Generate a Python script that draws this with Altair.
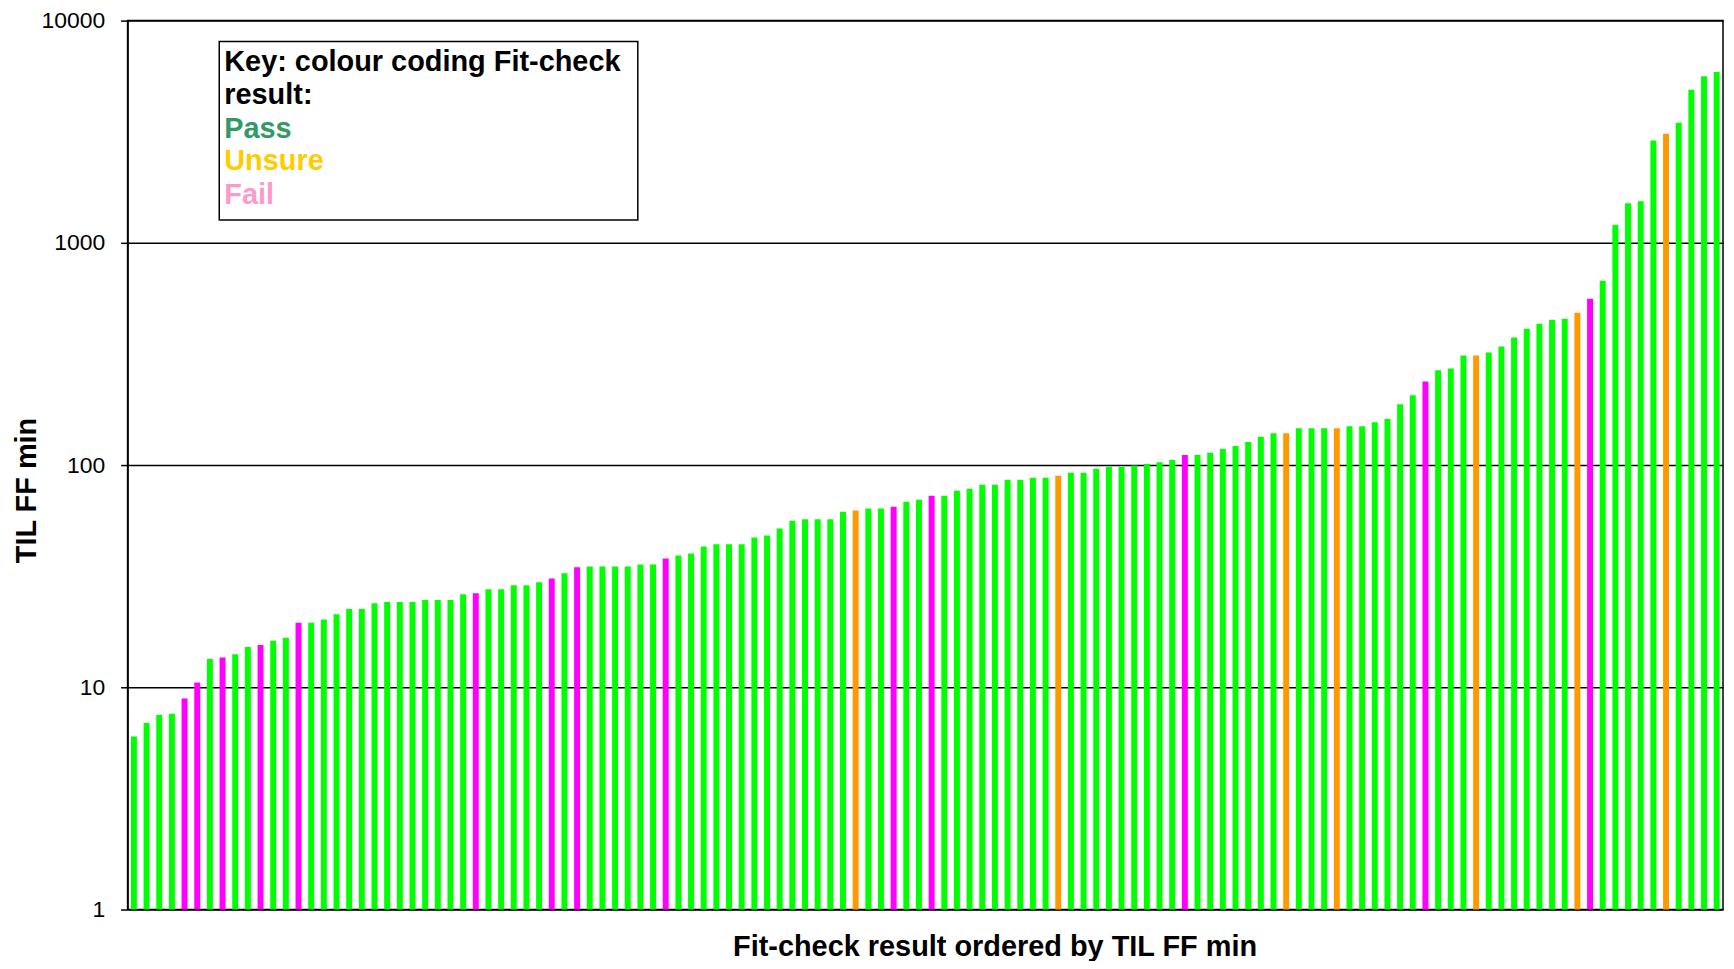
import altair as alt
import pandas as pd

# TIL FF min values, ordered
values = [
    6.0, 6.9, 7.5, 7.6, 8.9, 10.5, 13.4, 13.6, 14.1, 15.2,
    15.5, 16.2, 16.7, 19.5, 19.5, 20.2, 21.3, 22.5, 22.5, 23.9,
    24.2, 24.2, 24.2, 24.7, 24.7, 24.7, 26.2, 26.5, 27.6, 27.6,
    28.8, 28.8, 29.7, 30.9, 32.6, 34.7, 35.0, 35.0, 35.0, 35.0,
    35.7, 35.7, 38.0, 39.2, 40.0, 43.0, 44.0, 44.0, 44.0, 47.2,
    48.2, 51.8, 56.2, 57.0, 57.0, 57.0, 61.7, 62.5, 63.7, 63.7,
    65.0, 68.4, 69.8, 72.8, 72.8, 76.6, 78.2, 81.5, 81.5, 85.9,
    85.9, 87.7, 87.7, 89.5, 92.3, 92.3, 96.2, 98.2, 98.2, 99.5,
    101, 103, 105.5, 111, 111, 113.5, 118, 122, 127, 134,
    139, 139, 146.6, 146.6, 146.6, 146.6, 149.7, 149.7, 156, 161,
    188, 206, 238, 267, 272, 311, 311, 321, 342, 375,
    411, 433, 451, 456, 485, 560, 675, 1202, 1507, 1538,
    2884, 3098, 3473, 4880, 5623, 5875,
]

# Fit-check result codes: P = Pass, U = Unsure, F = Fail
codes = [
    "P", "P", "P", "P", "F", "F", "P", "F", "P", "P",
    "F", "P", "P", "F", "P", "P", "P", "P", "P", "P",
    "P", "P", "P", "P", "P", "P", "P", "F", "P", "P",
    "P", "P", "P", "F", "P", "F", "P", "P", "P", "P",
    "P", "P", "F", "P", "P", "P", "P", "P", "P", "P",
    "P", "P", "P", "P", "P", "P", "P", "U", "P", "P",
    "F", "P", "P", "F", "P", "P", "P", "P", "P", "P",
    "P", "P", "P", "U", "P", "P", "P", "P", "P", "P",
    "P", "P", "P", "F", "P", "P", "P", "P", "P", "P",
    "P", "U", "P", "P", "P", "U", "P", "P", "P", "P",
    "P", "P", "F", "P", "P", "P", "U", "P", "P", "P",
    "P", "P", "P", "P", "U", "F", "P", "P", "P", "P",
    "P", "U", "P", "P", "P", "P",
]

code_names = {"P": "Pass", "U": "Unsure", "F": "Fail"}
result_domain = ["Pass", "Unsure", "Fail"]
bar_colors = ["#00FF00", "#FF9900", "#FF00FF"]

y_ticks = [1, 10, 100, 1000, 10000]

legend_lines = ["Key: colour coding Fit-check", "result:", "Pass", "Unsure", "Fail"]
legend_colors = ["#000000", "#000000", "#339966", "#FFCC00", "#FF99CC"]

df = pd.DataFrame({
    "rank": list(range(1, len(values) + 1)),
    "til": values,
    "result": [code_names[c] for c in codes],
})

FONT = "Liberation Sans"
W, H = 1601, 892

bars = alt.Chart(df).mark_bar().encode(
    x=alt.X(
        "rank:O",
        scale=alt.Scale(paddingInner=0.53, paddingOuter=0.265),
        axis=alt.Axis(
            title="Fit-check result ordered by TIL FF min",
            labels=False, ticks=False, domain=False, grid=False,
            titleFont=FONT, titleFontSize=29, titleFontWeight="bold",
            titleColor="black", titleX=870, titleY=46,
            titleAlign="center", titleBaseline="alphabetic",
        ),
    ),
    y=alt.Y(
        "til:Q",
        scale=alt.Scale(type="log", domain=[1, 10000], nice=False),
        axis=alt.Axis(
            title="TIL FF min", values=y_ticks, format="d",
            grid=True, gridColor="black", gridOpacity=1, gridWidth=1.5,
            domainColor="black", domainWidth=1.5,
            tickColor="black", tickSize=7, tickWidth=1.5,
            labelFont=FONT, labelFontSize=23, labelColor="black",
            labelPadding=16,
            titleFont=FONT, titleFontSize=29, titleFontWeight="bold",
            titleColor="black", titleAngle=270, titleX=-101, titleY=471,
            titleAlign="center", titleBaseline="middle",
        ),
    ),
    y2=alt.datum(1),
    color=alt.Color(
        "result:N",
        scale=alt.Scale(domain=result_domain, range=bar_colors),
        legend=None,
    ),
)

one = alt.Data(values=[{"k": 1}])

legend_box = alt.Chart(one).mark_rect(
    fill="white", stroke="black", strokeWidth=1.5
).encode(
    x=alt.value(92), x2=alt.value(512), y=alt.value(21), y2=alt.value(200)
)

legend_y = [51, 84, 117.5, 150, 184]
legend_layers = []
for line, col, yy in zip(legend_lines, legend_colors, legend_y):
    legend_layers.append(
        alt.Chart(one).mark_text(
            text=line, align="left", baseline="alphabetic",
            font=FONT, fontSize=29, fontWeight="bold", color=col,
        ).encode(x=alt.value(97), y=alt.value(yy))
    )

chart = alt.layer(bars, legend_box, *legend_layers).properties(
    width=W, height=H,
    autosize=alt.AutoSizeParams(type="none"),
    padding={"left": 120, "top": 11, "right": 3, "bottom": 50},
    background="white",
).configure_view(stroke="black", strokeWidth=1.5)

chart.save("out.html", embed_options={"renderer": "svg", "actions": False})
